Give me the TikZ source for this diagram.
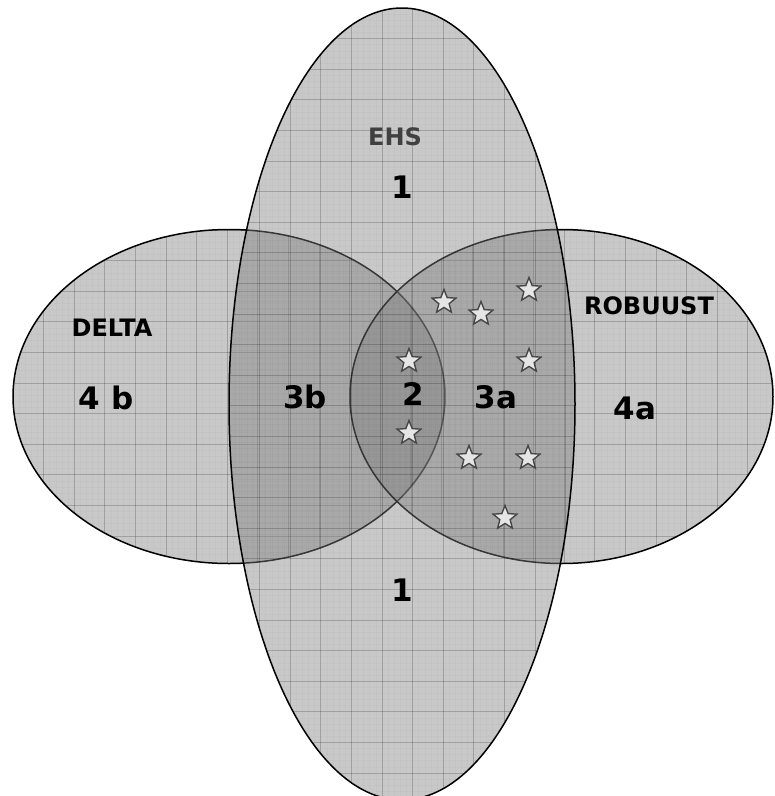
\documentclass[tikz,border=0pt]{standalone}
\usepackage{fontspec}
\setmainfont{DejaVu Sans}
\usetikzlibrary{shapes.geometric}
\tikzset{
  venn/.style={fill=black!50, fill opacity=0.43},
  vennline/.style={draw=black, line width=1.5pt},
  gridmajor/.style={draw=black, opacity=0.2, line width=0.9pt},
  gridminor/.style={draw=black, opacity=0.025, line width=0.6pt},
  lbl/.style={font=\fontsize{24}{24}\selectfont\bfseries, inner sep=0},
  biglbl/.style={font=\fontsize{31}{31}\selectfont\bfseries, inner sep=0},
  starmark/.style={star, star points=5, star point ratio=2.3, minimum size=25pt, inner sep=0, draw=black!72, fill=black!10, line width=1.4pt},
}
\newcommand{\venngrid}[4]{%
  \foreach \k in {0,...,#3} {
    \draw[gridmajor] ({#1+\k*30.6},0) -- ({#1+\k*30.6},800);
    \foreach \m in {1,...,4} {\draw[gridminor] ({#1+\k*30.6+\m*6.12},0) -- ({#1+\k*30.6+\m*6.12},800);}
  }
  \foreach \k in {0,...,#4} {
    \draw[gridmajor] (0,{#2+\k*30.6}) -- (775,{#2+\k*30.6});
    \foreach \m in {1,...,4} {\draw[gridminor] (0,{#2+\k*30.6+\m*6.12}) -- (775,{#2+\k*30.6+\m*6.12});}
  }
}
\begin{document}
\begin{tikzpicture}[x=1pt,y=-1pt]
\useasboundingbox (0,0) rectangle (775,796);
% DELTA ellipse
\fill[venn] (229,396.5) ellipse [x radius=216, y radius=167];
\begin{scope}
  \clip (229,396.5) ellipse [x radius=216, y radius=167];
  \venngrid{13}{230}{15}{11}
\end{scope}
\draw[vennline] (229,396.5) ellipse [x radius=216, y radius=167];
% ROBUUST ellipse
\fill[venn] (561.5,396.5) ellipse [x radius=211.5, y radius=167];
\begin{scope}
  \clip (561.5,396.5) ellipse [x radius=211.5, y radius=167];
  \venngrid{350}{230}{14}{11}
\end{scope}
\draw[vennline] (561.5,396.5) ellipse [x radius=211.5, y radius=167];
% EHS ellipse
\fill[venn] (402,404) ellipse [x radius=173, y radius=396];
\begin{scope}
  \clip (402,404) ellipse [x radius=173, y radius=396];
  \venngrid{229}{8}{12}{26}
\end{scope}
\draw[vennline] (402,404) ellipse [x radius=173, y radius=396];
% labels
\node[lbl, text=black!75] (ehs) at (395,137) {EHS};
\node[biglbl] (one1) at (402,187) {1};
\node[lbl] (delta) at (112,328) {DELTA};
\node[biglbl] (fourb) at (106,398) {4 b};
\node[biglbl] (threeb) at (305,397) {3b};
\node[biglbl] (two) at (413,394) {2};
\node[biglbl] (threea) at (496,397) {3a};
\node[biglbl] (foura) at (635,408) {4a};
\node[lbl] (rob) at (649,306) {ROBUUST};
\node[biglbl] (one2) at (402,590) {1};
% stars
\node[starmark] (s1) at (444,302) {};
\node[starmark] (s2) at (481,314) {};
\node[starmark] (s3) at (529,290) {};
\node[starmark] (s4) at (409,361) {};
\node[starmark] (s5) at (529,361) {};
\node[starmark] (s6) at (409,433) {};
\node[starmark] (s7) at (469,458) {};
\node[starmark] (s8) at (528,458) {};
\node[starmark] (s9) at (505,518) {};
\end{tikzpicture}
\end{document}
